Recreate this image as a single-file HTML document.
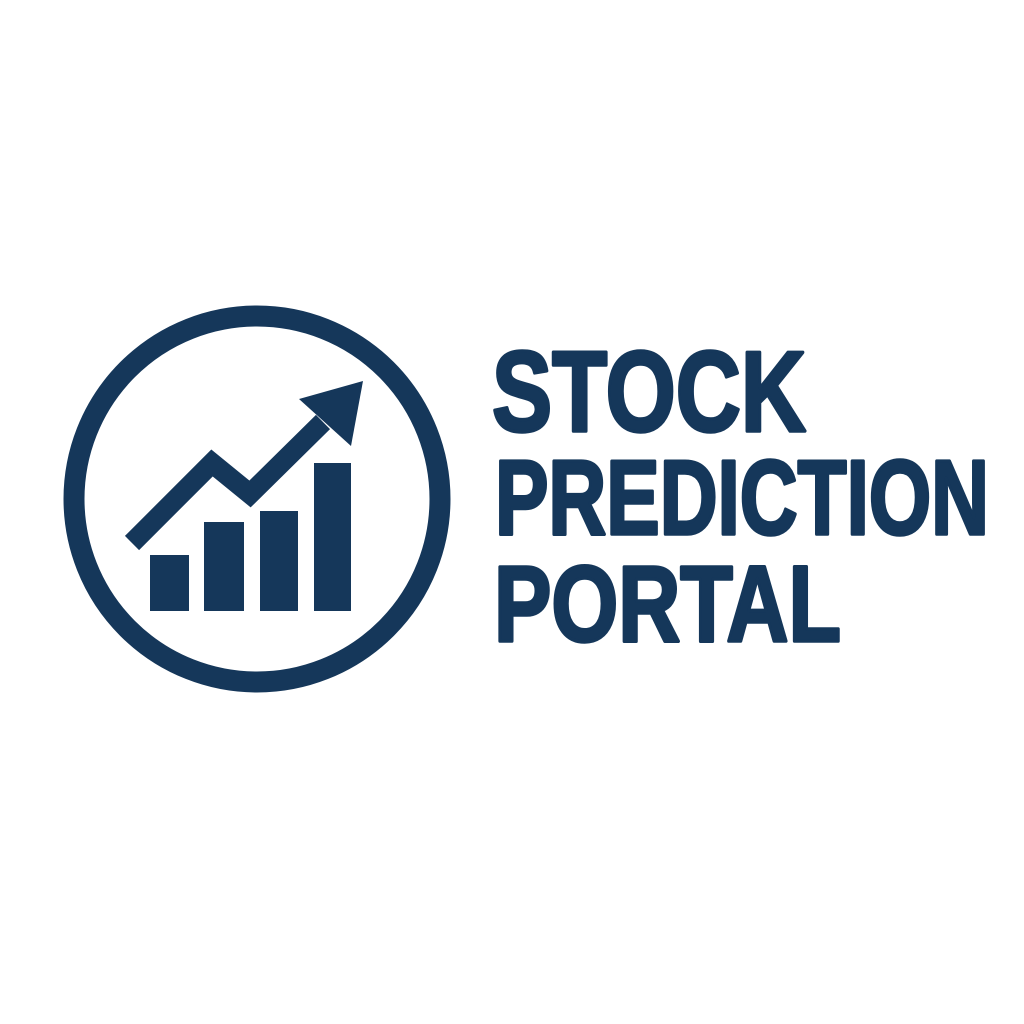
<!DOCTYPE html>
<html><head><meta charset="utf-8"><style>html,body{margin:0;padding:0;background:#fff}svg{display:block}</style></head>
<body>
<svg width="1024" height="1024" viewBox="0 0 1024 1024">
<g id="icon" fill="#15375a">
<circle cx="257" cy="499" r="183" fill="none" stroke="#15375a" stroke-width="21"/>
</g>
<g font-family="'Liberation Sans', sans-serif" font-weight="bold" fill="#15375a" stroke="#15375a" stroke-width="3.5" stroke-linejoin="round">
<text x="492" y="431" font-size="114" textLength="314" lengthAdjust="spacingAndGlyphs">STOCK</text>
<text x="495" y="534" font-size="106" textLength="494" lengthAdjust="spacingAndGlyphs">PREDICTION</text>
<text x="494" y="641" font-size="108" textLength="347" lengthAdjust="spacingAndGlyphs">PORTAL</text>
</g>
</svg>
<script>
const categories=['b1','b2','b3','b4'];
const barValues=[56,89,100,148];
const lineX=[132,212,250,323];
const lineY=[543,463,494,422];
const NS='http://www.w3.org/2000/svg';
const g=document.getElementById('icon');
const baseY=611, barX=[150,204,260,314], barW=[39,40,38,37];
categories.forEach((c,i)=>{
  const r=document.createElementNS(NS,'rect');
  r.setAttribute('x',barX[i]);r.setAttribute('width',barW[i]);
  r.setAttribute('y',baseY-barValues[i]);r.setAttribute('height',barValues[i]);
  
  
  g.appendChild(r);
});
const p=document.createElementNS(NS,'polyline');
p.setAttribute('points',lineX.map((x,i)=>x+','+lineY[i]).join(' '));
p.setAttribute('fill','none');p.setAttribute('stroke','#15375a');p.setAttribute('stroke-width','20');p.setAttribute('stroke-linejoin','miter');


g.appendChild(p);
const a=document.createElementNS(NS,'polygon');
a.setAttribute('points','299,399 363,381 351,446');


g.appendChild(a);
</script>
</body></html>
